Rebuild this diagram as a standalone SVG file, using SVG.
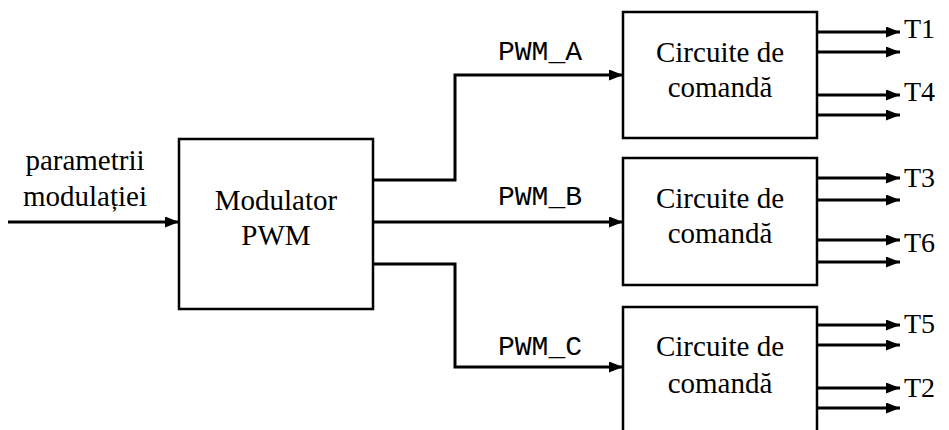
<svg xmlns="http://www.w3.org/2000/svg" width="949" height="430" viewBox="0 0 949 430">
<defs>
<marker id="ah" viewBox="0 0 14 11" refX="14" refY="5.5" markerWidth="14" markerHeight="11" markerUnits="userSpaceOnUse" orient="auto">
<path d="M0,0 L14,5.5 L0,11 Z" fill="#000"/>
</marker>
<style>
.box{fill:#fff;stroke:#000;stroke-width:2.5}
.t{font-family:"Liberation Serif","Times New Roman",serif;font-size:29px;fill:#000;text-anchor:middle}
.tl{font-family:"Liberation Serif","Times New Roman",serif;font-size:28px;fill:#000}
.m{font-family:"Liberation Mono","Courier New",monospace;font-size:28px;fill:#000;text-anchor:middle}
.c{fill:none;stroke:#000;stroke-width:3;marker-end:url(#ah)}
</style>
</defs>
<rect width="949" height="430" fill="#fff"/>
<g id="input-label">
<text class="t" x="85" y="170">parametrii</text>
<text class="t" x="85" y="206">modulației</text>
</g>
<g id="modulator">
<rect class="box" x="179" y="139" width="194" height="170"/>
<text class="t" x="276" y="210">Modulator</text>
<text class="t" x="276" y="245">PWM</text>
</g>
<g id="circ-a">
<rect class="box" x="623" y="12" width="194" height="126"/>
<text class="t" x="720" y="62">Circuite de</text>
<text class="t" x="720" y="97">comandă</text>
</g>
<g id="circ-b">
<rect class="box" x="623" y="158" width="194" height="127"/>
<text class="t" x="720" y="208">Circuite de</text>
<text class="t" x="720" y="243">comandă</text>
</g>
<g id="circ-c">
<rect class="box" x="623" y="307" width="194" height="140"/>
<text class="t" x="720" y="356">Circuite de</text>
<text class="t" x="720" y="393">comandă</text>
</g>
<g id="connectors">
<path class="c" d="M8,222 H179"/>
<path class="c" d="M373,180 H455 V75 H623"/>
<path class="c" d="M373,222 H623"/>
<path class="c" d="M373,264 H455 V367 H623"/>
<path class="c" d="M817,32 H900"/>
<path class="c" d="M817,52 H900"/>
<path class="c" d="M817,95 H900"/>
<path class="c" d="M817,115 H900"/>
<path class="c" d="M817,178 H900"/>
<path class="c" d="M817,200 H900"/>
<path class="c" d="M817,240 H900"/>
<path class="c" d="M817,262 H900"/>
<path class="c" d="M817,325 H900"/>
<path class="c" d="M817,345 H900"/>
<path class="c" d="M817,388 H900"/>
<path class="c" d="M817,408 H900"/>
</g>
<g id="labels">
<text class="m" x="540" y="60">PWM_A</text>
<text class="m" x="540" y="205">PWM_B</text>
<text class="m" x="540" y="355">PWM_C</text>
<text class="tl" x="904" y="38">T1</text>
<text class="tl" x="904" y="101">T4</text>
<text class="tl" x="904" y="187">T3</text>
<text class="tl" x="904" y="252">T6</text>
<text class="tl" x="904" y="333">T5</text>
<text class="tl" x="904" y="397">T2</text>
</g>
</svg>
